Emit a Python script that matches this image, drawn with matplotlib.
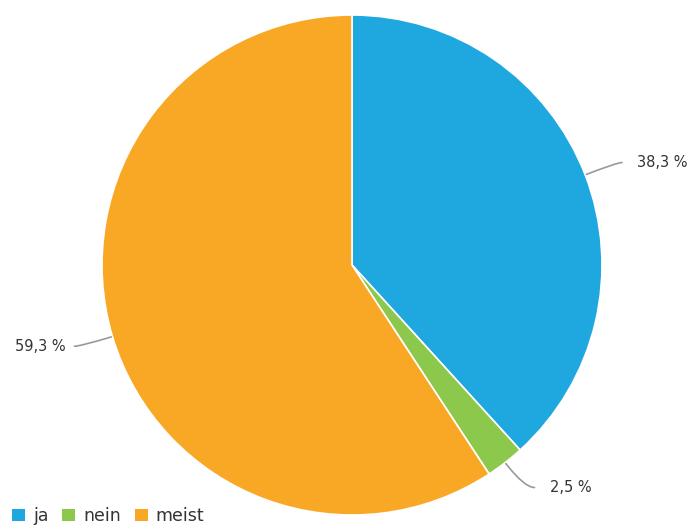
import numpy as np
import matplotlib.pyplot as plt
from matplotlib.patches import Patch

labels = ["ja", "nein", "meist"]
values = [38.3, 2.5, 59.3]
colors = ["#1fa8e0", "#8cc84b", "#f9a826"]
value_texts = ["38,3 %", "2,5 %", "59,3 %"]

# where the leader lines end and the labels sit (data units, radius = 1)
line_ends = [(1.08, 0.41), (0.73, -0.89), (-1.11, -0.325)]

fig = plt.figure(figsize=(6.95, 5.30), dpi=100)
ax = fig.add_axes([102 / 695, 15 / 530, 500 / 695, 500 / 530])

wedges, _ = ax.pie(values, colors=colors, startangle=90, counterclock=False,
                   radius=1, wedgeprops=dict(edgecolor="white", linewidth=1.2))
ax.set_xlim(-1, 1)
ax.set_ylim(-1, 1)

for w, txt, (lx, ly) in zip(wedges, value_texts, line_ends):
    mid = (w.theta1 + w.theta2) / 2
    ang = np.deg2rad(mid)
    px, py = 1.005 * np.cos(ang), 1.005 * np.sin(ang)
    if lx > 0:
        ha, tx = "left", lx + 0.06
    else:
        ha, tx = "right", lx - 0.035
    # curve leaves the pie radially and meets the label horizontally
    ax.annotate("", xy=(px, py), xytext=(lx, ly), annotation_clip=False,
                arrowprops=dict(arrowstyle="-", color="#999999", lw=1.2,
                                shrinkA=0, shrinkB=0,
                                connectionstyle=f"angle3,angleA=0,angleB={mid:.1f}"))
    ax.text(tx, ly, txt, ha=ha, va="center", fontsize=10.5, color="#333333",
            clip_on=False)

handles = [Patch(facecolor=c, edgecolor="none") for c in colors]
fig.legend(handles, labels, loc="lower left", bbox_to_anchor=(-0.005, -0.02),
           ncol=3, frameon=False, fontsize=12.5, handlelength=0.75,
           handleheight=0.75, handletextpad=0.45, columnspacing=0.8,
           labelcolor="#333333")

fig.savefig("out.png", dpi=100)
